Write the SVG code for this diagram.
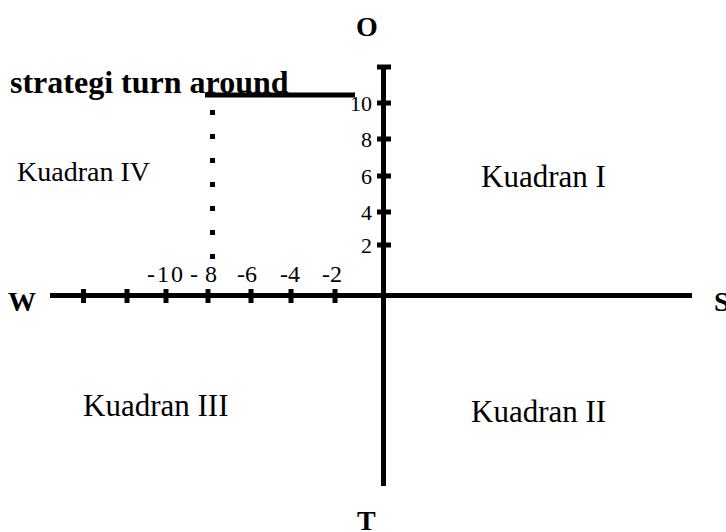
<svg xmlns="http://www.w3.org/2000/svg" width="726" height="532" viewBox="0 0 726 532">
<style>
text{font-family:"Liberation Serif","Times New Roman",serif;fill:#000}
.b{font-weight:bold}
.dir{font-size:28px;font-weight:bold}
.lbl{font-size:31px}
.numx{font-size:24px}
.numy{font-size:22px}
.axis{stroke:#000;stroke-width:5;fill:none}
.tick{stroke:#000;stroke-width:5}
</style>
<rect width="726" height="532" fill="#fff"/>
<g id="connectors">
<line class="axis" x1="50" y1="295.5" x2="692" y2="295.5"/>
<line class="axis" x1="383.5" y1="65" x2="383.5" y2="486"/>
<line class="axis" x1="205" y1="95" x2="355" y2="95" stroke-width="4"/>
<g id="dots" fill="#000">
<rect x="210" y="110" width="5" height="5"/>
<rect x="210" y="134" width="5" height="5"/>
<rect x="210" y="158" width="5" height="5"/>
<rect x="210" y="182" width="5" height="5"/>
<rect x="210" y="206" width="5" height="5"/>
<rect x="210" y="230" width="5" height="5"/>
<rect x="210" y="254" width="5" height="5"/>
</g>
</g>
<g id="ticks-x">
<line class="tick" x1="83.5" y1="289" x2="83.5" y2="303"/>
<line class="tick" x1="127" y1="289" x2="127" y2="303"/>
<line class="tick" x1="166" y1="289" x2="166" y2="303"/>
<line class="tick" x1="208" y1="289" x2="208" y2="303"/>
<line class="tick" x1="251" y1="289" x2="251" y2="303"/>
<line class="tick" x1="291" y1="289" x2="291" y2="303"/>
<line class="tick" x1="335" y1="289" x2="335" y2="303"/>
</g>
<g id="ticks-y">
<line class="tick" x1="377" y1="67" x2="391" y2="67"/>
<line class="tick" x1="377" y1="103" x2="391" y2="103"/>
<line class="tick" x1="377" y1="139" x2="391" y2="139"/>
<line class="tick" x1="377" y1="176" x2="391" y2="176"/>
<line class="tick" x1="377" y1="212" x2="391" y2="212"/>
<line class="tick" x1="377" y1="245" x2="391" y2="245"/>
</g>
<g id="labels-x" class="numx">
<text x="147" y="282" textLength="36" lengthAdjust="spacing">-10</text>
<text x="190" y="282" textLength="27" lengthAdjust="spacing">- 8</text>
<text x="237" y="282">-6</text>
<text x="280" y="282">-4</text>
<text x="322" y="282">-2</text>
</g>
<g id="labels-y" class="numy" text-anchor="end">
<text x="372" y="111">10</text>
<text x="372" y="147">8</text>
<text x="372" y="184">6</text>
<text x="372" y="220">4</text>
<text x="372" y="253">2</text>
</g>
<g id="title"><text class="b" font-size="32" x="10" y="93">strategi turn around</text></g>
<g id="O"><text class="dir" x="356" y="36">O</text></g>
<g id="T"><text class="dir" x="357" y="530">T</text></g>
<g id="W"><text class="dir" x="8" y="311">W</text></g>
<g id="S"><text class="dir" x="714" y="311">S</text></g>
<g id="q4"><text x="17" y="181" font-size="28">Kuadran IV</text></g>
<g id="q1"><text class="lbl" x="481" y="187">Kuadran I</text></g>
<g id="q3"><text class="lbl" x="83" y="416">Kuadran III</text></g>
<g id="q2"><text class="lbl" x="471" y="422">Kuadran II</text></g>
</svg>
